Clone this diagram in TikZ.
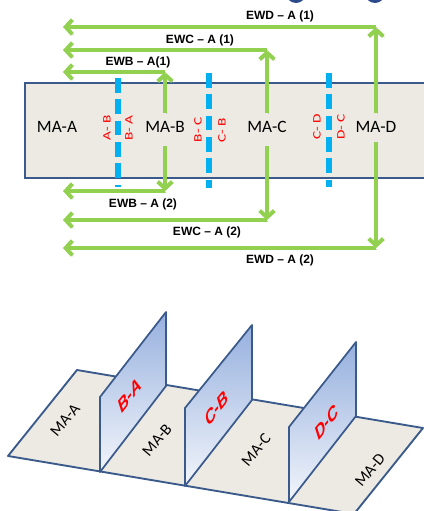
\documentclass[tikz,border=0pt]{standalone}
\usepackage{fontspec}
\setmainfont{Carlito}
\newfontfamily\labelfont{Liberation Sans}
\usetikzlibrary{arrows.meta}
\definecolor{boxfill}{RGB}{236,234,226}
\definecolor{boxline}{RGB}{58,90,140}
\definecolor{cutblue}{RGB}{0,176,240}
\definecolor{arrowgreen}{RGB}{146,208,80}
\definecolor{panelblue}{RGB}{150,176,222}
\definecolor{tagred}{RGB}{255,0,0}
\definecolor{blobblue}{RGB}{43,74,139}

\begin{document}
\begin{tikzpicture}[x=0.75pt,y=-0.75pt,
  area/.style={font=\fontsize{13}{15}\selectfont,inner sep=2pt},
  cut/.style={draw=cutblue,line width=3.8pt,dash pattern=on 11pt off 5pt},
  tag/.style={text=tagred,font=\fontsize{8.5}{9}\selectfont,rotate=90,xscale=1.35,inner sep=1pt},
  flow/.style={draw=arrowgreen,line width=3pt,-{Straight Barb[length=5pt,width=11pt]},
    preaction={draw=black!22,transform canvas={xshift=0.8pt,yshift=-0.8pt}}},
  flowlabel/.style={font=\labelfont\bfseries\fontsize{9}{10}\selectfont,inner sep=1pt},
  floor/.style={draw=boxline,line width=1.4pt,fill=boxfill,line join=round},
  floorlabel/.style={font=\fontsize{12}{14}\selectfont,rotate=50},
  panel/.style={draw=boxline,line width=1.3pt,line join=round,
    top color=panelblue,bottom color=panelblue!12},
  paneltag/.style={text=tagred,font=\labelfont\bfseries\fontsize{14}{16}\selectfont,
    cm={0.63,0.78,-0.3,0.95,(0,0)}}
]
\useasboundingbox (0,0) rectangle (424,511);
\fill[blobblue] (296,-7) circle[radius=10];
\fill[blobblue] (375,-7) circle[radius=10];

% strip of areas
\draw[boxline,line width=1.8pt,fill=boxfill] (25,83) rectangle (440,178);
\draw[cut] (118,78) -- (118,187);
\draw[cut] (209,73) -- (209,188);
\draw[cut] (329,73) -- (329,187);
\node[area] (maa) at (57,127) {MA-A};
\node[area] (mab) at (165,127) {MA-B};
\node[area] (mac) at (267,127) {MA-C};
\node[area] (mad) at (376,127) {MA-D};
\node[tag] (tagab) at (107,128) {A- B};
\node[tag] (tagba) at (129,128) {B- A};
\node[tag] (tagbc) at (198,130) {B- C};
\node[tag] (tagcb) at (222,130) {C- B};
\node[tag] (tagcd) at (317,127) {C- D};
\node[tag] (tagdc) at (341,127) {D- C};

\coordinate (ewbup) at (165,72);
\coordinate (ewbupend) at (63,72);
\coordinate (ewcup) at (267,50);
\coordinate (ewcupend) at (63,50);
\coordinate (ewdup) at (376,27);
\coordinate (ewdupend) at (63,27);
\coordinate (ewbdown) at (165,191);
\coordinate (ewbdownend) at (63,191);
\coordinate (ewcdown) at (267,220);
\coordinate (ewcdownend) at (63,220);
\coordinate (ewddown) at (376,248);
\coordinate (ewddownend) at (63,248);

\draw[flow,shorten <=4pt] (mab.north) -- (ewbup);
\draw[flow] (ewbup) -- (ewbupend);
\draw[flow,shorten <=4pt] (mac.north) -- (ewcup);
\draw[flow] (ewcup) -- (ewcupend);
\draw[flow,shorten <=4pt] (mad.north) -- (ewdup);
\draw[flow] (ewdup) -- (ewdupend);
\draw[flow,shorten <=8pt] (mab.south) -- (ewbdown);
\draw[flow] (ewbdown) -- (ewbdownend);
\draw[flow,shorten <=8pt] (mac.south) -- (ewcdown);
\draw[flow] (ewcdown) -- (ewcdownend);
\draw[flow,shorten <=5pt] (mad.south) -- (ewddown);
\draw[flow] (ewddown) -- (ewddownend);

\node[flowlabel] (ewbone) at (138,62) {EWB – A(1)};
\node[flowlabel] (ewcone) at (200,40) {EWC – A (1)};
\node[flowlabel] (ewdone) at (280,16) {EWD – A (1)};
\node[flowlabel] (ewbtwo) at (143,204) {EWB – A (2)};
\node[flowlabel] (ewctwo) at (207,232) {EWC – A (2)};
\node[flowlabel] (ewdtwo) at (280,260) {EWD – A (2)};

% floor with walls
\draw[floor] (8,456) -- (77,370) -- (423,428) -- (354,514) -- cycle;
\node[floorlabel] (flma) at (65,420) {MA-A};
\node[floorlabel] (flmb) at (157,440) {MA-B};
\node[floorlabel] (flmc) at (256,450) {MA-C};
\node[floorlabel] (flmd) at (370,470) {MA-D};
\draw[panel] (100,472) -- (166,386) -- (166,312) -- (100,397) -- cycle;
\draw[panel] (185,486) -- (252,400) -- (252,325) -- (185,408) -- cycle;
\draw[panel] (289,502) -- (356,416) -- (356,342) -- (289,427) -- cycle;
\node[paneltag] (wallba) at (130,395) {B-A};
\node[paneltag] (wallcb) at (217,408) {C-B};
\node[paneltag] (walldc) at (327,422) {D-C};
\end{tikzpicture}
\end{document}
